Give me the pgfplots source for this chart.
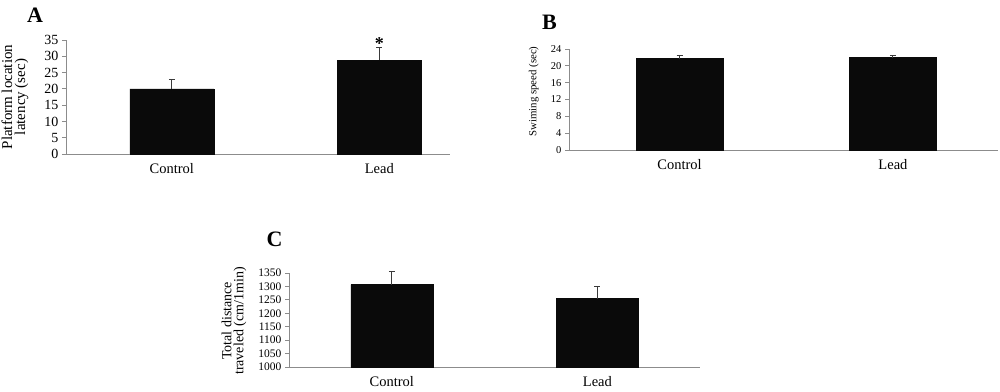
\documentclass[border=0pt]{standalone}
\usepackage{pgfplots}
\pgfplotsset{compat=1.18}
\usepackage{fontspec}
\setmainfont{Liberation Serif}
\definecolor{axisgray}{HTML}{8C8C8C}
\definecolor{barblack}{HTML}{0A0A0A}
\definecolor{errgray}{HTML}{3A3A3A}
\pgfplotsset{
  panel/.style={
    scale only axis,
    axis x line=bottom, axis y line=left,
    axis line style={axisgray, line width=0.8pt, -},
    x axis line style={-}, y axis line style={-},
    ybar, ymin=0,
    xtick=data, xticklabels={Control,Lead},
    xtick style={draw=none},
    ytick style={axisgray, line width=0.8pt},
    tick align=outside, major tick length=4pt,
    xticklabel style={font=\fontsize{14.5}{16}\selectfont, yshift=-2pt},
    /pgf/number format/assume math mode=true,
    /pgf/number format/1000 sep={},
    ylabel style={anchor=center, align=center},
    clip=false,
  },
  barplot/.style={fill=barblack, draw=barblack,
    error bars/.cd, y dir=plus, y explicit,
    error bar style={errgray, line width=1pt},
    error mark options={errgray, line width=1pt, mark size=3pt, rotate=90}},
}
\begin{document}
\begin{tikzpicture}
\path[use as bounding box] (0pt,0pt) rectangle (1000pt,391pt);
% Panel A
\begin{axis}[panel, at={(66pt,237pt)}, anchor=south west,
  width=384pt, height=114pt,
  xmin=-0.51, xmax=1.341, ymax=35, ytick={0,5,...,35},
  bar width=84pt,
  yticklabel style={font=\fontsize{14}{15}\selectfont},
  ylabel={Platform location\\latency (sec)},
  ylabel style={at={(axis description cs:-0.133,0.5)}, font=\fontsize{15}{13}\selectfont},
]
\addplot+[barplot] coordinates {(0,20.0) +- (0,2.9) (1,28.8) +- (0,4.0)};
\node[font=\fontsize{18}{18}\selectfont\bfseries, anchor=center] at (axis cs:1,34.0) {*};
\end{axis}
% Panel B
\begin{axis}[panel, at={(569pt,241pt)}, anchor=south west,
  width=429pt, height=101pt,
  xmin=-0.5176, xmax=1.492, ymax=24, ytick={0,4,...,24},
  bar width=87pt,
  yticklabel style={font=\fontsize{10.5}{12}\selectfont},
  ylabel={Swiming speed (sec)},
  ylabel style={at={(axis description cs:-0.082,0.58)}, font=\fontsize{10.8}{12}\selectfont},
]
\addplot+[barplot] coordinates {(0,21.7) +- (0,0.8) (1,21.95) +- (0,0.55)};
\end{axis}
% Panel C
\begin{axis}[panel, at={(289pt,24pt)}, anchor=south west,
  width=411pt, height=94pt,
  xmin=-0.5, xmax=1.499, ymin=1000, ymax=1350, ytick={1000,1050,...,1350},
  bar width=82pt,
  yticklabel style={font=\fontsize{11.5}{12}\selectfont},
  ylabel={Total distance\\traveled (cm/1min)},
  ylabel style={at={(axis description cs:-0.134,0.49)}, font=\fontsize{14}{12}\selectfont},
]
\addplot+[barplot] coordinates {(0,1307) +- (0,50) (1,1255) +- (0,43)};
\end{axis}
% Panel letters
\node[font=\fontsize{22}{22}\selectfont\bfseries] at (35pt,376pt) {A};
\node[font=\fontsize{22}{22}\selectfont\bfseries] at (549.5pt,368.5pt) {B};
\node[font=\fontsize{22}{22}\selectfont\bfseries] at (274.5pt,152pt) {C};
\end{tikzpicture}
\end{document}
